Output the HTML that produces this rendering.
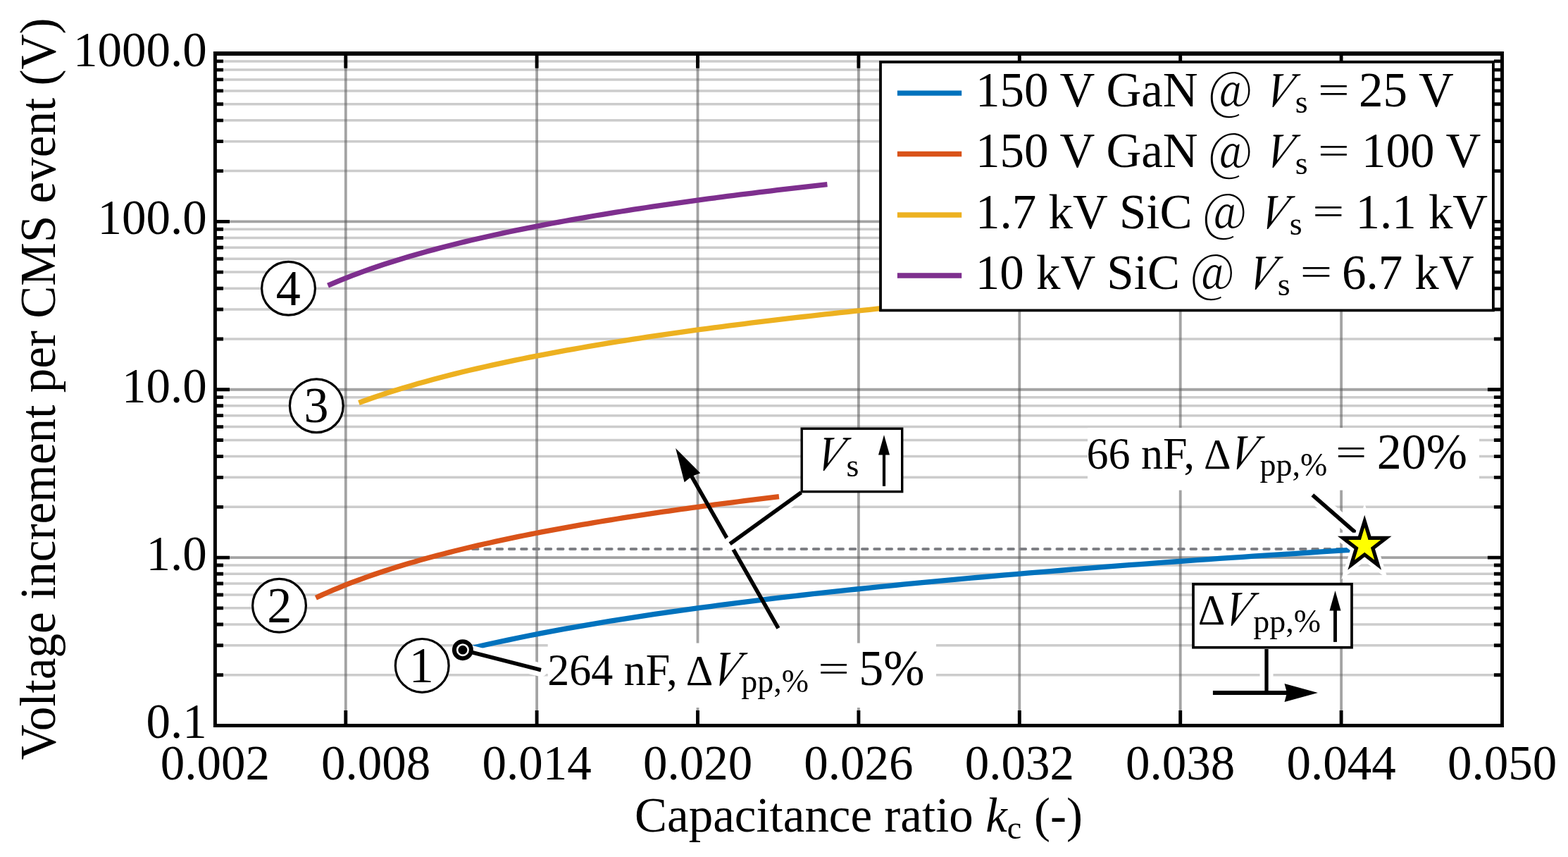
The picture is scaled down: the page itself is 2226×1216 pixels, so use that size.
<!DOCTYPE html>
<html><head><meta charset="utf-8"><title>Voltage increment per CMS event vs capacitance ratio</title>
<style>html,body{margin:0;padding:0;background:#fff;}svg{display:block;}</style></head>
<body>
<svg width="2226" height="1216" viewBox="0 0 2226 1216" font-family="'Liberation Serif', 'Times New Roman', Times, serif" fill="#000">
<rect width="2226" height="1216" fill="#fff"/>
<path d="M307.9 957.7H2130.0M307.9 915.72H2130.0M307.9 885.94H2130.0M307.9 862.84H2130.0M307.9 843.97H2130.0M307.9 828.01H2130.0M307.9 814.19H2130.0M307.9 801.99H2130.0M307.9 719.33H2130.0M307.9 677.36H2130.0M307.9 647.58H2130.0M307.9 624.48H2130.0M307.9 605.61H2130.0M307.9 589.65H2130.0M307.9 575.82H2130.0M307.9 563.63H2130.0M307.9 480.97H2130.0M307.9 439H2130.0M307.9 409.22H2130.0M307.9 386.12H2130.0M307.9 367.24H2130.0M307.9 351.29H2130.0M307.9 337.46H2130.0M307.9 325.27H2130.0M307.9 242.61H2130.0M307.9 200.63H2130.0M307.9 170.85H2130.0M307.9 147.75H2130.0M307.9 128.88H2130.0M307.9 112.92H2130.0M307.9 99.1H2130.0M307.9 86.91H2130.0" stroke="#575757" stroke-opacity="0.304" stroke-width="3.5" fill="none"/>
<path d="M490.8 78.9V1027.0M762.1 78.9V1027.0M990.5 78.9V1027.0M1218.9 78.9V1027.0M1447.3 78.9V1027.0M1675.7 78.9V1027.0M1904.1 78.9V1027.0" stroke="#575757" stroke-opacity="0.548" stroke-width="3.8" fill="none"/>
<path d="M307.9 791.09H2130.0M307.9 552.73H2130.0M307.9 314.36H2130.0" stroke="#575757" stroke-opacity="0.548" stroke-width="3.8" fill="none"/>
<path d="M656.9 779.02H1940" stroke="#7e7f84" stroke-width="3.8" stroke-linecap="round" stroke-dasharray="7.7 9.58" stroke-dashoffset="3.26" fill="none"/>
<polyline points="509.4,571.52 519.91,567.7 530.42,564.03 540.92,560.48 551.43,557.05 561.94,553.73 572.45,550.51 582.95,547.39 593.46,544.36 603.97,541.41 614.48,538.55 624.98,535.76 635.49,533.05 646,530.41 656.51,527.83 667.01,525.32 677.52,522.86 688.03,520.46 698.54,518.12 709.04,515.83 719.55,513.58 730.06,511.39 740.57,509.24 751.07,507.14 761.58,505.07 772.09,503.05 782.6,501.06 793.1,499.12 803.61,497.21 814.12,495.33 824.63,493.49 835.13,491.67 845.64,489.9 856.15,488.15 866.66,486.42 877.16,484.73 887.67,483.07 898.18,481.43 908.69,479.82 919.19,478.23 929.7,476.66 940.21,475.12 950.72,473.6 961.22,472.11 971.73,470.63 982.24,469.18 992.75,467.74 1003.25,466.33 1013.76,464.93 1024.27,463.55 1034.78,462.19 1045.29,460.85 1055.79,459.53 1066.3,458.22 1076.81,456.93 1087.32,455.65 1097.82,454.39 1108.33,453.15 1118.84,451.92 1129.35,450.7 1139.85,449.5 1150.36,448.31 1160.87,447.14 1171.38,445.98 1181.88,444.83 1192.39,443.7 1202.9,442.57 1213.41,441.46 1223.91,440.36 1234.42,439.27 1244.93,438.2 1255.44,437.13 1265.94,436.08 1276.45,435.03 1286.96,434 1297.47,432.98 1307.97,431.96 1318.48,430.96 1328.99,429.97 1339.5,428.98 1350,428.01" stroke="#EDB120" stroke-width="7.3" fill="none" stroke-linejoin="round"/>
<polyline points="465.51,405.17 474.37,401.36 483.23,397.69 492.1,394.14 500.96,390.7 509.82,387.38 518.68,384.16 527.54,381.04 536.4,378.01 545.27,375.07 554.13,372.21 562.99,369.42 571.85,366.71 580.71,364.07 589.57,361.49 598.44,358.97 607.3,356.52 616.16,354.12 625.02,351.78 633.88,349.48 642.74,347.24 651.61,345.05 660.47,342.9 669.33,340.79 678.19,338.73 687.05,336.7 695.91,334.72 704.78,332.77 713.64,330.86 722.5,328.99 731.36,327.14 740.22,325.33 749.08,323.55 757.95,321.8 766.81,320.08 775.67,318.39 784.53,316.72 793.39,315.08 802.25,313.47 811.12,311.88 819.98,310.32 828.84,308.78 837.7,307.26 846.56,305.76 855.42,304.29 864.29,302.83 873.15,301.4 882.01,299.98 890.87,298.59 899.73,297.21 908.59,295.85 917.46,294.51 926.32,293.18 935.18,291.88 944.04,290.59 952.9,289.31 961.76,288.05 970.63,286.81 979.49,285.58 988.35,284.36 997.21,283.16 1006.07,281.97 1014.93,280.8 1023.8,279.64 1032.66,278.49 1041.52,277.35 1050.38,276.23 1059.24,275.12 1068.1,274.02 1076.97,272.93 1085.83,271.85 1094.69,270.79 1103.55,269.73 1112.41,268.69 1121.27,267.66 1130.14,266.63 1139,265.62 1147.86,264.62 1156.72,263.62 1165.58,262.64 1174.44,261.66" stroke="#7E2F8E" stroke-width="7.3" fill="none" stroke-linejoin="round"/>
<polyline points="448.38,848.23 456.6,844.42 464.82,840.74 473.04,837.19 481.26,833.76 489.48,830.44 497.7,827.22 505.92,824.1 514.14,821.07 522.36,818.13 530.57,815.26 538.79,812.48 547.01,809.77 555.23,807.12 563.45,804.55 571.67,802.03 579.89,799.58 588.11,797.18 596.33,794.83 604.55,792.54 612.77,790.3 620.99,788.1 629.21,785.95 637.43,783.85 645.65,781.79 653.86,779.76 662.08,777.78 670.3,775.83 678.52,773.92 686.74,772.04 694.96,770.2 703.18,768.39 711.4,766.61 719.62,764.86 727.84,763.14 736.06,761.45 744.28,759.78 752.5,758.14 760.72,756.53 768.93,754.94 777.15,753.38 785.37,751.83 793.59,750.32 801.81,748.82 810.03,747.34 818.25,745.89 826.47,744.45 834.69,743.04 842.91,741.64 851.13,740.27 859.35,738.91 867.57,737.57 875.79,736.24 884.01,734.93 892.22,733.64 900.44,732.37 908.66,731.11 916.88,729.86 925.1,728.63 933.32,727.42 941.54,726.22 949.76,725.03 957.98,723.85 966.2,722.69 974.42,721.55 982.64,720.41 990.86,719.29 999.08,718.18 1007.3,717.08 1015.51,715.99 1023.73,714.91 1031.95,713.85 1040.17,712.79 1048.39,711.75 1056.61,710.71 1064.83,709.69 1073.05,708.68 1081.27,707.67 1089.49,706.68 1097.71,705.7 1105.93,704.72" stroke="#D95319" stroke-width="7.3" fill="none" stroke-linejoin="round"/>
<polyline points="656.91,922.53 672.94,918.72 688.98,915.05 705.02,911.5 721.06,908.06 737.1,904.74 753.14,901.52 769.18,898.4 785.22,895.37 801.26,892.43 817.29,889.57 833.33,886.78 849.37,884.07 865.41,881.42 881.45,878.85 897.49,876.33 913.53,873.88 929.57,871.48 945.61,869.14 961.64,866.84 977.68,864.6 993.72,862.41 1009.76,860.26 1025.8,858.15 1041.84,856.09 1057.88,854.06 1073.92,852.08 1089.96,850.13 1106,848.22 1122.03,846.35 1138.07,844.5 1154.11,842.69 1170.15,840.91 1186.19,839.16 1202.23,837.44 1218.27,835.75 1234.31,834.08 1250.35,832.44 1266.38,830.83 1282.42,829.24 1298.46,827.68 1314.5,826.14 1330.54,824.62 1346.58,823.12 1362.62,821.65 1378.66,820.19 1394.7,818.76 1410.74,817.34 1426.77,815.95 1442.81,814.57 1458.85,813.21 1474.89,811.87 1490.93,810.54 1506.97,809.24 1523.01,807.95 1539.05,806.67 1555.09,805.41 1571.12,804.17 1587.16,802.94 1603.2,801.72 1619.24,800.52 1635.28,799.33 1651.32,798.16 1667.36,797 1683.4,795.85 1699.44,794.71 1715.48,793.59 1731.51,792.48 1747.55,791.38 1763.59,790.29 1779.63,789.21 1795.67,788.15 1811.71,787.09 1827.75,786.05 1843.79,785.02 1859.83,783.99 1875.86,782.98 1891.9,781.98 1907.94,780.98 1923.98,780 1940.02,779.02" stroke="#0072BD" stroke-width="7.3" fill="none" stroke-linejoin="round"/>
<path d="M1104.9 891.3L975.97 665.62" stroke="#000" stroke-width="5.6" fill="none"/>
<path d="M959.1 636.1L994.2 671.33L981.92 676.04L971.62 684.23Z" fill="#000"/>
<rect x="777.7" y="912.5" width="551.3" height="91.5" fill="#fff"/>
<rect x="1544" y="607" width="556" height="88.6" fill="#fff"/>
<circle cx="599.2" cy="944.4" r="37.9" fill="#fff" stroke="#000" stroke-width="3.2"/>
<text transform="matrix(1,0,0,1.025,0,-24.2)" x="580.7" y="968" font-size="70">1</text>
<circle cx="396.5" cy="859.3" r="37.9" fill="#fff" stroke="#000" stroke-width="3.2"/>
<text transform="matrix(1,0,0,1.025,0,-22.07)" x="379.38" y="882.9" font-size="70">2</text>
<circle cx="449.3" cy="575.7" r="37.9" fill="#fff" stroke="#000" stroke-width="3.2"/>
<text transform="matrix(1,0,0,1.025,0,-14.98)" x="431.55" y="599.3" font-size="70">3</text>
<circle cx="409.5" cy="409.2" r="37.9" fill="#fff" stroke="#000" stroke-width="3.2"/>
<text transform="matrix(1,0,0,1.025,0,-10.82)" x="391.88" y="432.8" font-size="70">4</text>
<path d="M1137.4 698.7L1036.2 771.7" stroke="#fff" stroke-width="19" stroke-linecap="round" fill="none"/>
<path d="M1137.4 698.7L1036.2 771.7" stroke="#000" stroke-width="5.6" fill="none"/>
<rect x="1138.2" y="608.2" width="142.5" height="89.4" fill="#fff" stroke="#000" stroke-width="3.4"/>
<text transform="matrix(0.79,0,-0.4357,1,1149.75,666.6)" font-size="70">V</text>
<text transform="matrix(1,0,0,1.025,0,-16.9)" x="1201.5" y="676" font-size="46">s</text>
<path d="M1255 689.8V644.1" stroke="#000" stroke-width="4.2" fill="none"/>
<path d="M1255 617.1L1263 645.6L1247 645.6Z" fill="#000"/>
<path d="M1798 921L1798 983" stroke="#fff" stroke-width="19" stroke-linecap="round" fill="none"/>
<path d="M1798 921L1798 983" stroke="#000" stroke-width="5.3" fill="none"/>
<path d="M1721.9 983H1840" stroke="#000" stroke-width="5.8" fill="none"/>
<path d="M1870.9 983L1823.5 970L1827 983L1823.5 996Z" fill="#000"/>
<rect x="1694" y="828.8" width="225" height="89.9" fill="#fff" stroke="#000" stroke-width="3.7"/>
<text transform="matrix(1,0,0,1.025,0,-22.16)" x="1700.85" y="886.4" font-size="60">&#916;</text>
<text transform="matrix(0.79,0,-0.4357,1,1728.75,886.6)" font-size="70">V</text>
<text transform="matrix(1,0,0,1.025,0,-22.43)" x="1779.25" y="897.3" font-size="46">pp,%</text>
<path d="M1895.5 910.9V865" stroke="#000" stroke-width="4.9" fill="none"/>
<path d="M1895.5 838L1903.5 866.5L1887.5 866.5Z" fill="#000"/>
<path d="M656.9 922.2L768 950.7" stroke="#fff" stroke-width="19" stroke-linecap="round" fill="none"/>
<path d="M656.9 922.2L768 950.7" stroke="#000" stroke-width="5.6" fill="none"/>
<circle cx="656.9" cy="922.2" r="12" fill="#fff" stroke="#000" stroke-width="6"/>
<circle cx="656.9" cy="922.2" r="6.4" fill="#000"/>
<text transform="matrix(1,0,0,1.025,0,-24.3)" x="777.32" y="971.9" font-size="62">264 nF,</text>
<text transform="matrix(1,0,0,1.025,0,-24.29)" x="973.75" y="971.8" font-size="60">&#916;</text>
<text transform="matrix(0.79,0,-0.4357,1,1002.45,972.2)" font-size="70">V</text>
<text transform="matrix(1,0,0,1.025,0,-24.55)" x="1052.25" y="982" font-size="46">pp,%</text>
<text transform="translate(1161.25,966.83) scale(1.1292,0.7989)" font-size="70">=</text>
<text transform="matrix(1,0,0,1.025,0,-24.31)" x="1219.2" y="972.4" font-size="70">5%</text>
<path d="M1863.3 702.3L1930 760.6" stroke="#fff" stroke-width="19" stroke-linecap="round" fill="none"/>
<path d="M1863.3 702.3L1930 760.6" stroke="#000" stroke-width="5.6" fill="none"/>
<text transform="matrix(1,0,0,1.025,0,-16.63)" x="1542.45" y="665.3" font-size="62">66 nF,</text>
<text transform="matrix(1,0,0,1.025,0,-16.63)" x="1708.95" y="665.2" font-size="60">&#916;</text>
<text transform="matrix(0.79,0,-0.4357,1,1736.75,665.3)" font-size="70">V</text>
<text transform="matrix(1,0,0,1.025,0,-16.88)" x="1788.45" y="675.4" font-size="46">pp,%</text>
<text transform="translate(1895.97,659.73) scale(1.1231,0.7989)" font-size="70">=</text>
<text transform="matrix(1,0,0,1.025,0,-16.63)" x="1954.7" y="665.3" font-size="70">20%</text>
<polygon points="1937.2,739.6 1944.45,763.3 1967.93,763.3 1948.94,777.95 1956.19,801.65 1937.2,787 1918.21,801.65 1925.46,777.95 1906.47,763.3 1929.95,763.3" fill="#fff" stroke="#fff" stroke-width="15" stroke-linejoin="miter" stroke-miterlimit="10"/>
<polygon points="1937.2,739.6 1944.45,763.3 1967.93,763.3 1948.94,777.95 1956.19,801.65 1937.2,787 1918.21,801.65 1925.46,777.95 1906.47,763.3 1929.95,763.3" fill="#FFFF00" stroke="#000" stroke-width="5.2" stroke-linejoin="miter" stroke-miterlimit="10"/>
<path d="M305.4 957.7h11.6M2132.5 957.7h-11.6M305.4 915.72h11.6M2132.5 915.72h-11.6M305.4 885.94h11.6M2132.5 885.94h-11.6M305.4 862.84h11.6M2132.5 862.84h-11.6M305.4 843.97h11.6M2132.5 843.97h-11.6M305.4 828.01h11.6M2132.5 828.01h-11.6M305.4 814.19h11.6M2132.5 814.19h-11.6M305.4 801.99h11.6M2132.5 801.99h-11.6M305.4 791.09h20.6M2132.5 791.09h-20.6M305.4 719.33h11.6M2132.5 719.33h-11.6M305.4 677.36h11.6M2132.5 677.36h-11.6M305.4 647.58h11.6M2132.5 647.58h-11.6M305.4 624.48h11.6M2132.5 624.48h-11.6M305.4 605.61h11.6M2132.5 605.61h-11.6M305.4 589.65h11.6M2132.5 589.65h-11.6M305.4 575.82h11.6M2132.5 575.82h-11.6M305.4 563.63h11.6M2132.5 563.63h-11.6M305.4 552.73h20.6M2132.5 552.73h-20.6M305.4 480.97h11.6M2132.5 480.97h-11.6M305.4 439h11.6M2132.5 439h-11.6M305.4 409.22h11.6M2132.5 409.22h-11.6M305.4 386.12h11.6M2132.5 386.12h-11.6M305.4 367.24h11.6M2132.5 367.24h-11.6M305.4 351.29h11.6M2132.5 351.29h-11.6M305.4 337.46h11.6M2132.5 337.46h-11.6M305.4 325.27h11.6M2132.5 325.27h-11.6M305.4 314.36h20.6M2132.5 314.36h-20.6M305.4 242.61h11.6M2132.5 242.61h-11.6M305.4 200.63h11.6M2132.5 200.63h-11.6M305.4 170.85h11.6M2132.5 170.85h-11.6M305.4 147.75h11.6M2132.5 147.75h-11.6M305.4 128.88h11.6M2132.5 128.88h-11.6M305.4 112.92h11.6M2132.5 112.92h-11.6M305.4 99.1h11.6M2132.5 99.1h-11.6M305.4 86.91h11.6M2132.5 86.91h-11.6M490.8 76v20.8M490.8 1029.45v-21.4M762.1 76v20.8M762.1 1029.45v-21.4M990.5 76v20.8M990.5 1029.45v-21.4M1218.9 76v20.8M1218.9 1029.45v-21.4M1447.3 76v20.8M1447.3 1029.45v-21.4M1675.7 76v20.8M1675.7 1029.45v-21.4M1904.1 76v20.8M1904.1 1029.45v-21.4" stroke="#000" stroke-width="4.9" fill="none"/>
<path d="M305.4 76H2132.5" stroke="#000" stroke-width="5.8" fill="none"/>
<path d="M302.93 1029.45H2134.9M305.4 73.1V1031.95M2132.5 73.1V1031.95" stroke="#000" stroke-width="4.95" fill="none"/>
<rect x="1250" y="88" width="869.9" height="352.4" fill="#fff" stroke="#000" stroke-width="3.8"/>
<path d="M1273.9 132.2H1365.2" stroke="#0072BD" stroke-width="7.3" fill="none"/>
<text transform="matrix(1,0,0,1.025,0,-3.78)" x="1385.1" y="151.1" font-size="69.0">150 V GaN</text>
<text transform="translate(1716.12,155.42) scale(0.9603,1.0452)" font-size="70" font-family="'Noto Serif CJK SC', 'Liberation Serif', serif">@</text>
<text transform="matrix(0.79,0,-0.4357,1,1787.55,151.1)" font-size="70">V</text>
<text transform="matrix(1,0,0,1.025,0,-4.01)" x="1838.8" y="160.5" font-size="46">s</text>
<text transform="translate(1871.1,145.53) scale(1.1332,0.7989)" font-size="70">=</text>
<text transform="matrix(1,0,0,1.025,0,-3.78)" x="1929" y="151.1" font-size="69.0">25 V</text>
<path d="M1273.9 218.5H1365.2" stroke="#D95319" stroke-width="7.3" fill="none"/>
<text transform="matrix(1,0,0,1.025,0,-5.93)" x="1385.1" y="237.4" font-size="69.0">150 V GaN</text>
<text transform="translate(1716.12,241.72) scale(0.9603,1.0452)" font-size="70" font-family="'Noto Serif CJK SC', 'Liberation Serif', serif">@</text>
<text transform="matrix(0.79,0,-0.4357,1,1787.55,237.4)" font-size="70">V</text>
<text transform="matrix(1,0,0,1.025,0,-6.17)" x="1838.8" y="246.8" font-size="46">s</text>
<text transform="translate(1871.1,231.83) scale(1.1332,0.7989)" font-size="70">=</text>
<text transform="matrix(1,0,0,1.025,0,-5.93)" x="1932.9" y="237.4" font-size="69.0">100 V</text>
<path d="M1273.9 305H1365.2" stroke="#EDB120" stroke-width="7.3" fill="none"/>
<text transform="matrix(1,0,0,1.025,0,-8.1)" x="1385.1" y="323.9" font-size="69.0">1.7 kV SiC</text>
<text transform="translate(1707.92,328.22) scale(0.9603,1.0452)" font-size="70" font-family="'Noto Serif CJK SC', 'Liberation Serif', serif">@</text>
<text transform="matrix(0.79,0,-0.4357,1,1779.75,323.9)" font-size="70">V</text>
<text transform="matrix(1,0,0,1.025,0,-8.33)" x="1830.8" y="333.3" font-size="46">s</text>
<text transform="translate(1863.2,318.33) scale(1.1415,0.7989)" font-size="70">=</text>
<text transform="matrix(1,0,0,1.025,0,-8.1)" x="1924.4" y="323.9" font-size="69.0">1.1 kV</text>
<path d="M1273.9 391H1365.2" stroke="#7E2F8E" stroke-width="7.3" fill="none"/>
<text transform="matrix(1,0,0,1.025,0,-10.25)" x="1384.8" y="409.9" font-size="69.0">10 kV SiC</text>
<text transform="translate(1690.62,414.22) scale(0.9603,1.0452)" font-size="70" font-family="'Noto Serif CJK SC', 'Liberation Serif', serif">@</text>
<text transform="matrix(0.79,0,-0.4357,1,1762.85,409.9)" font-size="70">V</text>
<text transform="matrix(1,0,0,1.025,0,-10.48)" x="1813.7" y="419.3" font-size="46">s</text>
<text transform="translate(1845.67,404.33) scale(1.1508,0.7989)" font-size="70">=</text>
<text transform="matrix(1,0,0,1.025,0,-10.25)" x="1904.9" y="409.9" font-size="69.0">6.7 kV</text>
<text transform="matrix(1,0,0,1.025,0,-27.65)" x="305.35" y="1106" font-size="69.0" text-anchor="middle">0.002</text>
<text transform="matrix(1,0,0,1.025,0,-27.65)" x="533.75" y="1106" font-size="69.0" text-anchor="middle">0.008</text>
<text transform="matrix(1,0,0,1.025,0,-27.65)" x="762.15" y="1106" font-size="69.0" text-anchor="middle">0.014</text>
<text transform="matrix(1,0,0,1.025,0,-27.65)" x="990.55" y="1106" font-size="69.0" text-anchor="middle">0.020</text>
<text transform="matrix(1,0,0,1.025,0,-27.65)" x="1218.95" y="1106" font-size="69.0" text-anchor="middle">0.026</text>
<text transform="matrix(1,0,0,1.025,0,-27.65)" x="1447.35" y="1106" font-size="69.0" text-anchor="middle">0.032</text>
<text transform="matrix(1,0,0,1.025,0,-27.65)" x="1675.75" y="1106" font-size="69.0" text-anchor="middle">0.038</text>
<text transform="matrix(1,0,0,1.025,0,-27.65)" x="1904.15" y="1106" font-size="69.0" text-anchor="middle">0.044</text>
<text transform="matrix(1,0,0,1.025,0,-27.65)" x="2132.55" y="1106" font-size="69.0" text-anchor="middle">0.050</text>
<text transform="matrix(1,0,0,1.025,0,-2.35)" x="293.7" y="94" font-size="69.0" text-anchor="end">1000.0</text>
<text transform="matrix(1,0,0,1.025,0,-8.31)" x="293.7" y="332.36" font-size="69.0" text-anchor="end">100.0</text>
<text transform="matrix(1,0,0,1.025,0,-14.27)" x="293.7" y="570.73" font-size="69.0" text-anchor="end">10.0</text>
<text transform="matrix(1,0,0,1.025,0,-20.23)" x="293.7" y="809.09" font-size="69.0" text-anchor="end">1.0</text>
<text transform="matrix(1,0,0,1.025,0,-26.19)" x="293.7" y="1047.45" font-size="69.0" text-anchor="end">0.1</text>
<text transform="matrix(1,0,0,1.025,0,-29.5)" x="901.05" y="1180" font-size="69.0">Capacitance ratio</text>
<text transform="matrix(1,0,0,1.025,0,-29.5)" x="1399.3" y="1180" font-size="69.0" font-style="italic">k</text>
<text transform="matrix(1,0,0,1.025,0,-29.76)" x="1429.85" y="1190.5" font-size="46">c</text>
<text transform="matrix(1,0,0,1.025,0,-29.5)" x="1468" y="1180" font-size="69.0">(-)</text>
<text transform="translate(77.8,551.9) rotate(-90) scale(1,1.025)" x="0" y="0" font-size="69.15" text-anchor="middle">Voltage increment per CMS event (V)</text>
</svg>
</body></html>
